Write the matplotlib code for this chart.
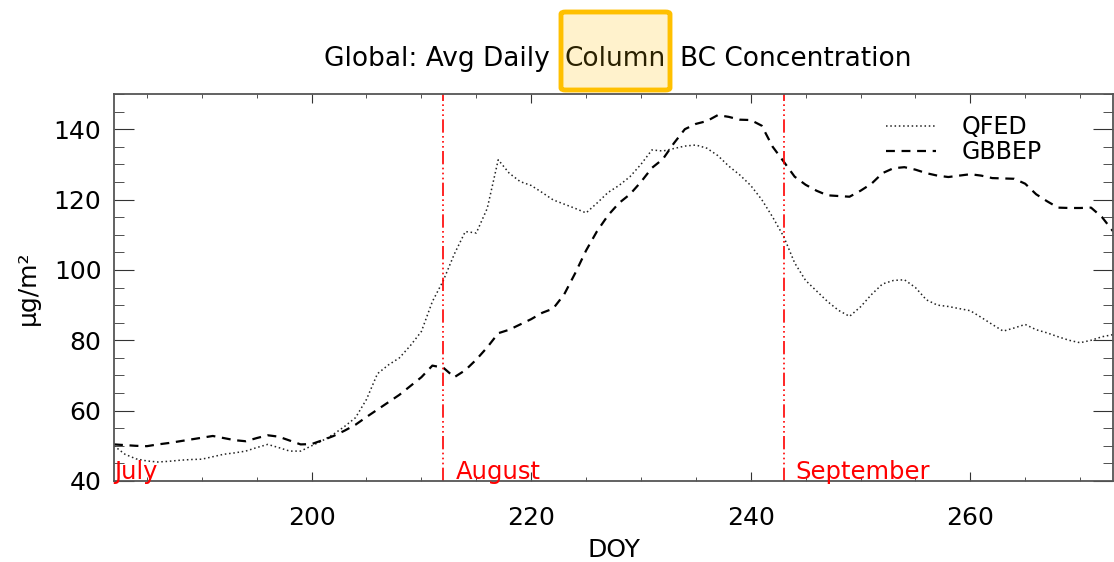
import matplotlib
matplotlib.use("Agg")
import matplotlib.pyplot as plt
from matplotlib.patches import FancyBboxPatch
from matplotlib.ticker import MultipleLocator

plt.rcParams['font.family'] = ['DejaVu Sans']

# day of year
doy = list(range(182, 274))

# QFED global mean column BC (ug/m2)
qfed = [50.0, 47.6, 46.3, 45.7, 45.4, 45.6, 45.9, 46.1, 46.2, 46.9,
        47.6, 48.0, 48.5, 49.5, 50.4, 49.5, 48.5, 48.5, 50.0, 51.5,
        53.3, 55.5, 58.0, 63.2, 70.5, 73.0, 75.0, 78.5, 82.5, 91.0,
        97.0, 104.5, 110.9, 110.5, 117.5, 131.3, 127.5, 125.1, 124.0, 122.0,
        119.9, 118.7, 117.5, 116.2, 119.0, 122.0, 124.0, 126.5, 130.0, 134.1,
        133.8, 134.5, 135.2, 135.5, 134.6, 132.5, 129.5, 127.0, 124.0, 120.0,
        115.0, 109.5, 102.0, 97.0, 94.0, 91.0, 88.5, 86.8, 89.5, 93.0,
        96.0, 97.0, 97.2, 95.0, 91.5, 90.0, 89.6, 89.0, 88.4, 86.5,
        84.5, 82.6, 83.5, 84.5, 83.0, 82.1, 81.0, 80.0, 79.3, 80.0,
        81.0, 81.6]

# GBBEP global mean column BC (ug/m2)
gbbep = [50.4, 50.2, 50.0, 49.9, 50.4, 50.8, 51.3, 51.8, 52.3, 52.8,
         52.2, 51.6, 51.3, 52.2, 53.0, 52.6, 51.5, 50.4, 50.5, 51.6,
         52.8, 54.3, 56.0, 58.2, 60.3, 62.4, 64.5, 67.0, 69.5, 72.8,
         72.2, 69.5, 71.5, 74.5, 78.0, 82.0, 83.0, 84.5, 86.0, 87.8,
         89.0, 93.0, 99.0, 105.5, 111.0, 115.5, 119.0, 121.5, 125.0, 129.0,
         131.5, 136.0, 140.0, 141.5, 142.3, 144.0, 143.5, 142.7, 142.6, 141.0,
         135.0, 130.8, 126.5, 124.2, 122.5, 121.2, 121.0, 120.8, 122.5, 124.5,
         127.5, 128.9, 129.2, 128.5, 127.5, 126.8, 126.4, 126.8, 127.2, 126.8,
         126.1, 126.0, 125.9, 124.5, 121.5, 119.5, 117.7, 117.6, 117.6, 117.7,
         115.0, 111.0]

# first day of each month
month_names = ['July', 'August', 'September']
month_doy = [182, 212, 243]

xticks = [200, 220, 240, 260]
yticks = [40, 60, 80, 100, 120, 140]

W, H = 1114, 562
fig = plt.figure(figsize=(W / 100, H / 100), dpi=100)
ax = fig.add_axes([114 / W, 1 - 481 / H, 999 / W, 387 / H])

ax.plot(doy, qfed, color='#222222', lw=1.1, linestyle=(0, (1, 1.8)), label='QFED')
ax.plot(doy, gbbep, color='black', lw=1.6, linestyle=(0, (4, 3)), label='GBBEP')

for d in month_doy[1:]:
    ax.axvline(d, color='red', lw=1.2, linestyle=(0, (8, 2, 1, 2, 1, 2, 1, 2)))
for name, d in zip(month_names, month_doy):
    off = 0 if d == 182 else 1.1
    ax.text(d + off, 40.5, name, color='red', fontsize=17.5, va='baseline', ha='left')

ax.set_xlim(182, 273)
ax.set_ylim(40, 150)
ax.set_xticks(xticks)
ax.set_yticks(yticks)
ax.xaxis.set_minor_locator(MultipleLocator(5))
ax.yaxis.set_minor_locator(MultipleLocator(5))
ax.tick_params(axis='both', which='both', direction='in', top=True, right=True,
               labelsize=18, color='#333333')
ax.tick_params(axis='x', which='major', length=6.5, pad=18)
ax.tick_params(axis='x', which='minor', length=3)
ax.tick_params(axis='y', which='major', length=14.5, pad=9)
ax.tick_params(axis='y', which='minor', length=7)
for s in ax.spines.values():
    s.set_color('#555555')
    s.set_linewidth(1.3)

ax.set_xlabel('DOY', fontsize=18, labelpad=6)
ax.set_ylabel('μg/m²', fontsize=18, labelpad=10)

leg = ax.legend(loc='upper right', bbox_to_anchor=(0.95, 1.0), frameon=False,
                fontsize=17, handlelength=2.1, handletextpad=1.1,
                labelspacing=0.05)

# title, with the word "Column" boxed
fig.patches.append(FancyBboxPatch((561 / W, 1 - 90 / H), 109 / W, 78 / H,
                                  boxstyle='round,pad=0,rounding_size=0.004',
                                  transform=fig.transFigure, facecolor='#fff2cc',
                                  edgecolor='#ffc000', lw=3.5, zorder=0))
ty = 1 - 66 / H
fig.text(550 / W, ty, 'Global: Avg Daily', fontsize=19, ha='right', va='baseline')
fig.text(615 / W, ty, 'Column', fontsize=19, ha='center', va='baseline', color='#2a2100')
fig.text(680 / W, ty, 'BC Concentration', fontsize=19, ha='left', va='baseline')

fig.savefig('out.png', dpi=100)
